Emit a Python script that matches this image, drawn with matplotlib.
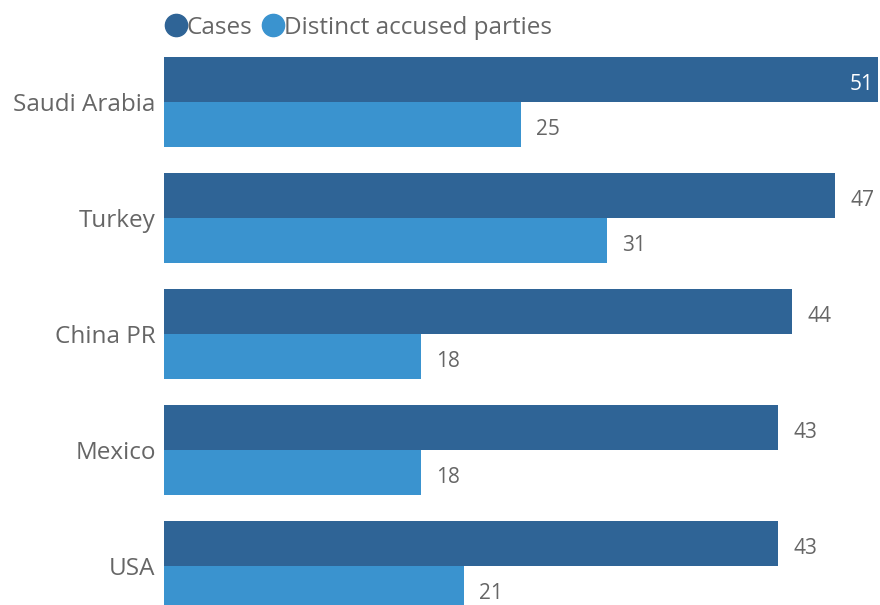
import matplotlib.pyplot as plt
from matplotlib.lines import Line2D
import numpy as np

plt.rcParams['font.family'] = ['Open Sans', 'DejaVu Sans']

countries = ['Saudi Arabia', 'Turkey', 'China PR', 'Mexico', 'USA']
cases = [51, 47, 44, 43, 43]
parties = [25, 31, 18, 18, 21]

dark = '#2f6496'
light = '#3a93cf'
grey = '#666666'

fig = plt.figure(figsize=(8.8, 6.05), dpi=100)
ax = fig.add_axes([164 / 880, 0, (878 - 164) / 880, 560 / 605])

y = np.arange(len(countries))
h = 45 / 116
ax.barh(y - h / 2, cases, height=h, color=dark)
ax.barh(y + h / 2, parties, height=h, color=light)

xmax = 50
ax.set_xlim(0, xmax)
ax.set_ylim(4.337, -0.491)

# value labels; a bar running past the axis edge gets its label inside
dy = 0.04
for i, v in enumerate(cases):
    if v > xmax:
        ax.text(xmax - 0.3, i - h / 2 + dy, str(v), color='white', fontsize=15,
                ha='right', va='center')
    else:
        ax.text(v + 1.05, i - h / 2 + dy, str(v), color=grey, fontsize=15,
                ha='left', va='center')
for i, v in enumerate(parties):
    ax.text(v + 1.05, i + h / 2 + dy, str(v), color=grey, fontsize=15,
            ha='left', va='center')

ax.set_yticks(y)
ax.set_yticklabels(countries, fontsize=17.5, color=grey, va='center_baseline')
ax.tick_params(axis='y', length=0, pad=6)
ax.set_xticks([])
for s in ax.spines.values():
    s.set_visible(False)

handles = [Line2D([], [], marker='o', ls='', color=dark, markersize=16),
           Line2D([], [], marker='o', ls='', color=light, markersize=16)]
leg = fig.legend(handles, ['Cases', 'Distinct accused parties'],
                 loc='center left', bbox_to_anchor=(167 / 880, 1 - 28 / 605),
                 ncol=2, frameon=False, fontsize=17.5, handlelength=0.7,
                 handletextpad=0.1, columnspacing=0.5, borderpad=0, borderaxespad=0)
for t in leg.get_texts():
    t.set_color(grey)

fig.savefig('out.png', dpi=100)
